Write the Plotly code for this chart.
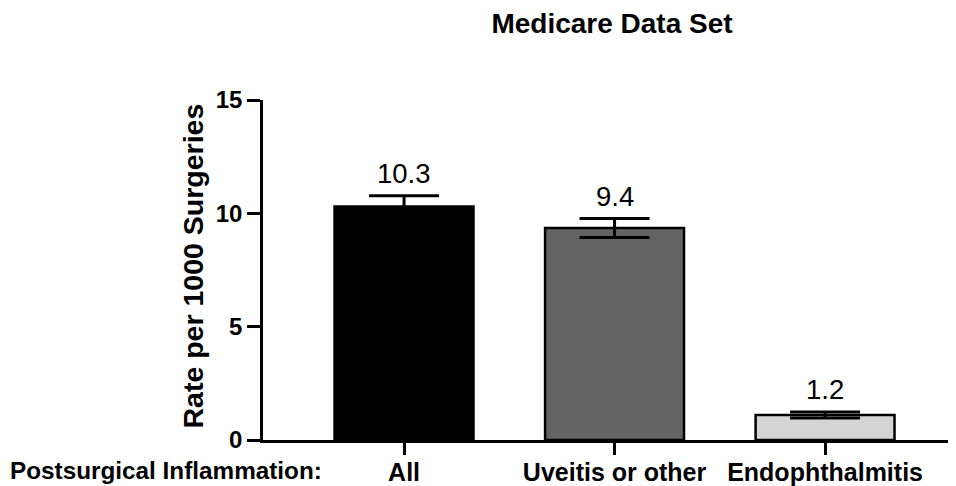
import plotly.graph_objects as go

categories = ["All", "Uveitis or other", "Endophthalmitis"]
rates = [10.3, 9.35, 1.1]
errors = [0.48, 0.42, 0.13]
value_labels = ["10.3", "9.4", "1.2"]
bar_colors = ["#000000", "#636363", "#d4d4d4"]
y_ticks = [0, 5, 10, 15]

FONT = "Liberation Sans, Arial, sans-serif"
# page body has an 8px margin, so the figure is 8px smaller than the window
W, H = 948, 478
L, R, T, B = 255, 0, 92, 46
pw = W - L - R
ph = H - T - B

fig = go.Figure()
fig.add_trace(go.Bar(
    x=list(range(len(categories))),
    y=rates,
    width=0.66,
    marker=dict(color=bar_colors, line=dict(color="#000000", width=2.5)),
    error_y=dict(type="data", array=errors, visible=True, color="#000000",
                 thickness=3, width=35),
    showlegend=False,
))

for i, (v, e, lab) in enumerate(zip(rates, errors, value_labels)):
    fig.add_annotation(x=i, y=v + e, text=lab, showarrow=False,
                       xref="x", yref="y", yanchor="bottom", yshift=5,
                       font=dict(family=FONT, size=27.5, color="#000000"))

fig.add_annotation(xref="paper", yref="paper", x=(0 - L) / pw, y=0,
                   xanchor="left", yanchor="top", yshift=-15,
                   text="<b>Postsurgical Inflammation:</b>", showarrow=False,
                   font=dict(family=FONT, size=24.3, color="#000000"))

fig.add_annotation(xref="paper", yref="paper", x=(184 - L) / pw,
                   y=(432 - 258.5) / ph,
                   xanchor="center", yanchor="middle", textangle=-90,
                   text="<b>Rate per 1000 Surgeries</b>", showarrow=False,
                   font=dict(family=FONT, size=28.5, color="#000000"))

fig.update_layout(
    width=W, height=H,
    margin=dict(l=L, r=R, t=T, b=B, autoexpand=False),
    plot_bgcolor="white", paper_bgcolor="white",
    title=dict(text="<b>Medicare Data Set</b>", x=604 / W, xref="container",
               y=1 - 15 / H, yref="container", xanchor="center", yanchor="middle",
               font=dict(family=FONT, size=28, color="#000000")),
    xaxis=dict(
        range=[-0.67, 2.622],
        tickmode="array", tickvals=list(range(len(categories))),
        ticktext=["<b>%s</b>" % c for c in categories],
        ticks="outside", ticklen=12, tickwidth=2.5, tickcolor="#000000",
        ticklabelstandoff=-4,
        showline=True, linecolor="#000000", linewidth=2.5,
        showgrid=False, zeroline=False,
        tickfont=dict(family=FONT, size=25, color="#000000"),
    ),
    yaxis=dict(
        range=[0, 15],
        tickmode="array", tickvals=y_ticks, ticktext=["<b>%d</b>" % t for t in y_ticks],
        ticks="outside", ticklen=13, tickwidth=2.5, tickcolor="#000000",
        showline=True, linecolor="#000000", linewidth=2.5,
        showgrid=False, zeroline=False,
        tickfont=dict(family=FONT, size=24, color="#000000"),
    ),
)

fig.write_html("out.html")
